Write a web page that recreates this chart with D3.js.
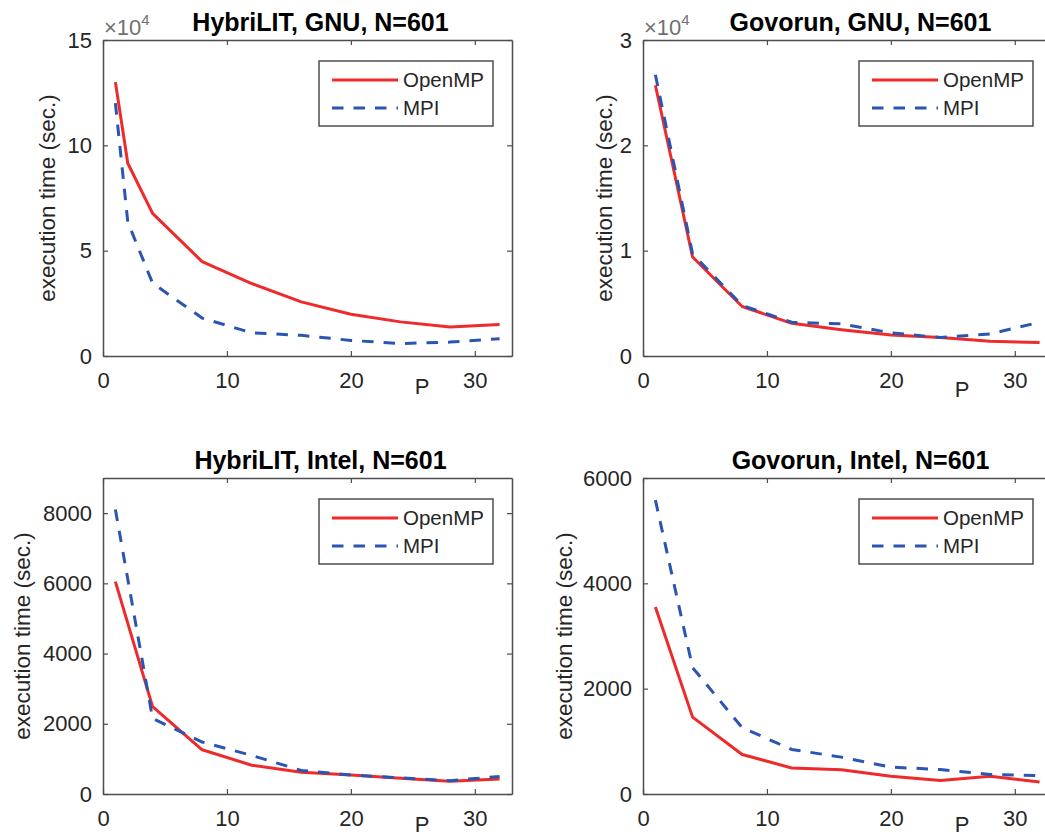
<!DOCTYPE html>
<html>
<head>
<meta charset="utf-8">
<script src="https://cdn.jsdelivr.net/npm/d3@7"></script>
<style>
  body { margin: 0; background: white; }
  svg { display: block; }
  text { font-family: "Liberation Sans", Arial, sans-serif; }
</style>
</head>
<body>
<div id="my_dataviz"></div>
<script>
// number of processes, per panel
var pHybGnu = [1, 2, 4, 8, 12, 16, 20, 24, 28, 32]
var pGovGnu = [1, 4, 8, 12, 16, 20, 24, 28, 32]
var pHybIntel = [1, 4, 8, 12, 16, 20, 24, 28, 32]
var pGovIntel = [1, 4, 8, 12, 16, 20, 24, 28, 32]

// execution time (sec.)
var ompHybGnu = [130000, 91500, 67700, 44800, 34400, 25700, 19800, 16200, 13800, 15000]
var mpiHybGnu = [120000, 63600, 34600, 18000, 11000, 9800, 7400, 5900, 6600, 8200]
var ompGovGnu = [25700, 9400, 4700, 3100, 2500, 2000, 1750, 1400, 1270]
var mpiGovGnu = [26700, 9700, 4800, 3200, 3050, 2200, 1750, 2100, 3200]
var ompHybIntel = [6050, 2490, 1260, 820, 620, 540, 450, 360, 430]
var mpiHybIntel = [8100, 2150, 1480, 1100, 670, 540, 460, 380, 500]
var ompGovIntel = [3550, 1460, 750, 495, 460, 335, 255, 335, 230]
var mpiGovIntel = [5580, 2400, 1260, 845, 700, 510, 465, 370, 350]

// axis setup
var xTicks = [0, 10, 20, 30]
var yTicksHybGnu = [0, 50000, 100000, 150000]
var yTicksGovGnu = [0, 10000, 20000, 30000]
var yTicksHybIntel = [0, 2000, 4000, 6000, 8000]
var yTicksGovIntel = [0, 2000, 4000, 6000]
var seriesNames = ["OpenMP", "MPI"]

function init() {
    var svg = d3.select("#my_dataviz").append("svg")
        .attr("width", 1045)
        .attr("height", 837)

    var axisColor = "#4d4d4d"
    var red = "#ee2a2a"
    var blue = "#2a55b2"
    var dash = "11.5,10"
    var w = 409, h = 316

    var panels = [
        {title: "HybriLIT, GNU, N=601", left: 103, top: 40, ymax: 150000, yt: yTicksHybGnu, p: pHybGnu, omp: ompHybGnu, mpi: mpiHybGnu, exp: true, ylx: 48, py: 38},
        {title: "Govorun, GNU, N=601", left: 643, top: 40, ymax: 30000, yt: yTicksGovGnu, p: pGovGnu, omp: ompGovGnu, mpi: mpiGovGnu, exp: true, ylx: 605, py: 41},
        {title: "HybriLIT, Intel, N=601", left: 103, top: 478, ymax: 9000, yt: yTicksHybIntel, p: pHybIntel, omp: ompHybIntel, mpi: mpiHybIntel, exp: false, ylx: 23, py: 38},
        {title: "Govorun, Intel, N=601", left: 643, top: 478, ymax: 6000, yt: yTicksGovIntel, p: pGovIntel, omp: ompGovIntel, mpi: mpiGovIntel, exp: false, ylx: 565, py: 38}
    ]

    panels.forEach(function(pn) {
        var xs = d3.scaleLinear().domain([0, 33]).range([0, w])
        var ys = d3.scaleLinear().domain([0, pn.ymax]).range([h, 0])
        var g = svg.append("g").attr("transform", "translate(" + pn.left + "," + pn.top + ")")

        var fmt = pn.exp ? function(d) { return d / 10000 } : d3.format("d")

        // bottom + left axes with labels, ticks pointing inward
        var xa = g.append("g").attr("transform", "translate(0," + h + ")")
            .call(d3.axisBottom(xs).tickValues(xTicks).tickSizeInner(-5).tickSizeOuter(0).tickPadding(16))
        var ya = g.append("g")
            .call(d3.axisLeft(ys).tickValues(pn.yt).tickFormat(fmt).tickSizeInner(-5).tickSizeOuter(0).tickPadding(11))
        // top + right axes, ticks only
        var xt = g.append("g")
            .call(d3.axisTop(xs).tickValues(xTicks).tickSizeInner(-5).tickSizeOuter(0).tickFormat(""))
        var yr = g.append("g").attr("transform", "translate(" + w + ",0)")
            .call(d3.axisRight(ys).tickValues(pn.yt).tickSizeInner(-5).tickSizeOuter(0).tickFormat(""))

        ;[xa, ya, xt, yr].forEach(function(a) {
            a.select(".domain").attr("stroke", axisColor).attr("stroke-width", 1.5)
            a.selectAll(".tick line").attr("stroke", axisColor).attr("stroke-width", 1.2)
            a.selectAll(".tick text").attr("fill", "#262626").style("font-size", "22px")
                .style("font-family", "'Liberation Sans', Arial, sans-serif")
        })

        // exponent label
        if (pn.exp) {
            var e = g.append("text").attr("x", 1).attr("y", -5)
                .attr("fill", "#707070").style("font-size", "22px")
            e.append("tspan").text("\u00d710")
            e.append("tspan").attr("dy", -10).style("font-size", "15px").text("4")
        }

        // title
        g.append("text")
            .attr("x", w / 2 + 13)
            .attr("y", -9)
            .attr("text-anchor", "middle")
            .style("font-size", "25px")
            .style("font-weight", "bold")
            .attr("fill", "#000")
            .text(pn.title)

        // y label
        g.append("text")
            .attr("transform", "translate(" + (pn.ylx - pn.left + 7) + "," + (h / 2) + ") rotate(-90)")
            .attr("text-anchor", "middle")
            .attr("fill", "#262626")
            .style("font-size", "22.5px")
            .text("execution time (sec.)")

        // x label
        g.append("text")
            .attr("x", 319)
            .attr("y", h + pn.py)
            .attr("text-anchor", "middle")
            .attr("fill", "#262626")
            .style("font-size", "22px")
            .text("P")

        // lines
        var line = d3.line()
            .x(function(d) { return xs(d[0]) })
            .y(function(d) { return ys(d[1]) })

        g.append("path")
            .datum(d3.zip(pn.p, pn.omp))
            .attr("d", line)
            .attr("fill", "none")
            .attr("stroke", red)
            .attr("stroke-width", 3)
            .attr("stroke-linejoin", "round")
        g.append("path")
            .datum(d3.zip(pn.p, pn.mpi))
            .attr("d", line)
            .attr("fill", "none")
            .attr("stroke", blue)
            .attr("stroke-width", 3)
            .attr("stroke-dasharray", dash)

        // legend
        var lg = g.append("g").attr("transform", "translate(216,21)")
        lg.append("rect")
            .attr("width", 174).attr("height", 65)
            .attr("fill", "white")
            .attr("stroke", axisColor)
            .attr("stroke-width", 1.5)
        lg.selectAll("mylines")
            .data(seriesNames)
            .enter()
            .append("line")
            .attr("x1", 13).attr("x2", 79)
            .attr("y1", function(d, i) { return 19 + i * 28 })
            .attr("y2", function(d, i) { return 19 + i * 28 })
            .attr("stroke", function(d, i) { return i == 0 ? red : blue })
            .attr("stroke-width", 3)
            .attr("stroke-dasharray", function(d, i) { return i == 0 ? null : dash })
        lg.selectAll("mylabels")
            .data(seriesNames)
            .enter()
            .append("text")
            .attr("x", 84)
            .attr("y", function(d, i) { return 19 + i * 28 })
            .attr("dy", "0.35em")
            .attr("fill", "#262626")
            .style("font-size", "20.5px")
            .text(function(d) { return d })
    })
}

init()
</script>
</body>
</html>
